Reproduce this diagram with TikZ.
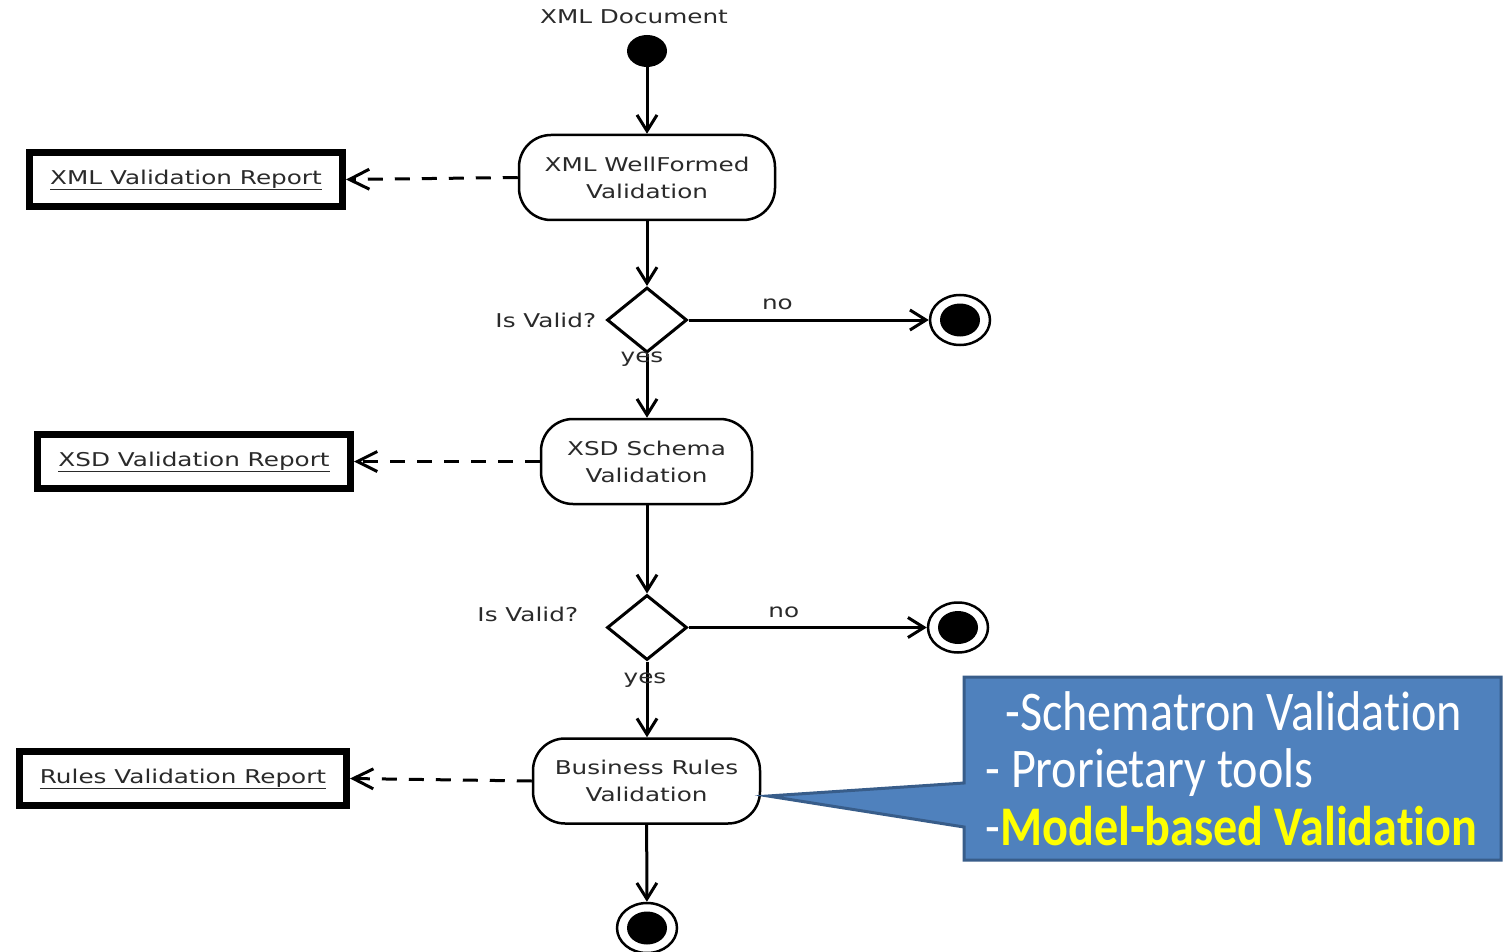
\documentclass[tikz,border=0pt]{standalone}
\usepackage{fontspec}
\usetikzlibrary{arrows.meta,shapes.geometric}
\newfontfamily\dfont[FakeStretch=1.3]{DejaVu Sans}
\newfontfamily\cfont[FakeStretch=0.86,Ligatures=NoCommon]{Carlito}
\definecolor{ctext}{HTML}{2A2A2A}
\definecolor{cfill}{HTML}{4F81BD}
\definecolor{cline}{HTML}{385D8A}
\definecolor{cyel}{HTML}{FFFF00}
\newcommand\myul[1]{\setbox0\hbox{#1}\rlap{\smash{\rule[-2.8pt]{\wd0}{0.9pt}}}\box0}
\begin{document}
\begin{tikzpicture}[x=0.5pt,y=-0.5pt,
  txt/.style={font=\dfont\fontsize{9.5}{13.5}\selectfont, text=ctext, inner sep=0pt},
  action/.style={txt, draw=black, line width=1.25pt, rounded corners=16pt, minimum height=42.5pt, align=center},
  report/.style={txt, draw=black, line width=3.5pt, minimum height=27pt},
  decision/.style={diamond, draw=black, line width=1.5pt, minimum width=40pt, minimum height=32.5pt, inner sep=0pt},
  endnode/.style={ellipse, draw=black, line width=1.25pt, minimum width=30pt, minimum height=25pt, inner sep=0pt},
  startnode/.style={ellipse, fill=black, minimum width=20pt, minimum height=16pt, inner sep=0pt},
  flow/.style={draw=black, line width=1.5pt, -{Straight Barb[length=8pt,width=10pt]}},
  dep/.style={draw=black, line width=1.5pt, dash pattern=on 7.5pt off 6pt, -{Straight Barb[length=10pt,width=10pt]}},
  lbl/.style={txt},
  ctxt/.style={font=\cfont\fontsize{28}{29}\selectfont, text=white, inner sep=0pt},
  callout/.style={fill=cfill, draw=cline, line width=1.5pt, line join=miter}
]
\useasboundingbox (0,0) rectangle (1509,952);
\fill[white] (0,0) rectangle (1509,952);

% main flow nodes
\node[lbl] (doc) at (634,17) {XML Document};
\node[startnode] (start) at (647,51) {};
\node[action, minimum width=128pt] (a1) at (647,177.5) {XML WellFormed\\Validation};
\node[decision] (d1) at (647,320) {};
\node[endnode] (e1) at (960,320) {};
\node[action, minimum width=105.5pt] (a2) at (646.5,461.5) {XSD Schema\\Validation};
\node[decision] (d2) at (647,627.5) {};
\node[endnode] (e2) at (958,627.5) {};
\node[action, minimum width=113.5pt] (a3) at (646.5,781) {Business Rules\\Validation};
\node[endnode] (e3) at (647,928) {};
\foreach \e in {e1,e2,e3}{\fill (\e.center) ellipse [x radius=10pt, y radius=8.25pt];}

% reports
\node[report, minimum width=156.5pt] (r1) at (186,179.5) {\myul{XML Validation Report}};
\node[report, minimum width=156.5pt] (r2) at (194,461.5) {\myul{XSD Validation Report}};
\node[report, minimum width=163.5pt] (r3) at (183,778.5) {\myul{Rules Validation Report}};

% decision labels
\node[lbl, anchor=east] (q1) at ([xshift=-4.5pt]d1.west) {Is Valid?};
\node[lbl, anchor=east] (q2) at ([xshift=-13.5pt,yshift=6.5pt]d2.west) {Is Valid?};

% connectors
\draw[flow] (start) -- (a1);
\draw[flow] (a1) -- (d1);
\draw[flow] (d1.east) -- (e1.west) node[lbl, pos=0.37, yshift=8pt] {no};
\draw[flow] (d1) -- (d1 |- a2.north) node[lbl, pos=0.08, xshift=-2.5pt] {yes};
\draw[flow] (d1 |- a2.south) -- (d2);
\draw[flow] (d2.east) -- (e2.west) node[lbl, pos=0.4, yshift=7.5pt] {no};
\draw[flow] (d2) -- (d2 |- a3.north) node[lbl, pos=0.25, xshift=-1pt] {yes};
\draw[flow] (a3) -- (e3);
\draw[dep] (a1.west) -- (r1.east);
\draw[dep] (a2.west) -- (r2.east);
\draw[dep] (a3.west) -- (r3.east);

% callout
\coordinate (tip) at (768,796);
\path[callout] (964,677) -- (1501,677) -- (1501,860) -- (964,860) -- (964,827) -- (tip) -- (964,783) -- cycle;
\node[ctxt, anchor=base west] (c1) at (1005,730) {-Schematron Validation};
\node[ctxt, anchor=base west] (c2) at (985,787) {- Prorietary tools};
\node[ctxt, anchor=base west] (c3) at (985,845) {-\textcolor{cyel}{\bfseries Model-based Validation}};
\end{tikzpicture}
\end{document}
